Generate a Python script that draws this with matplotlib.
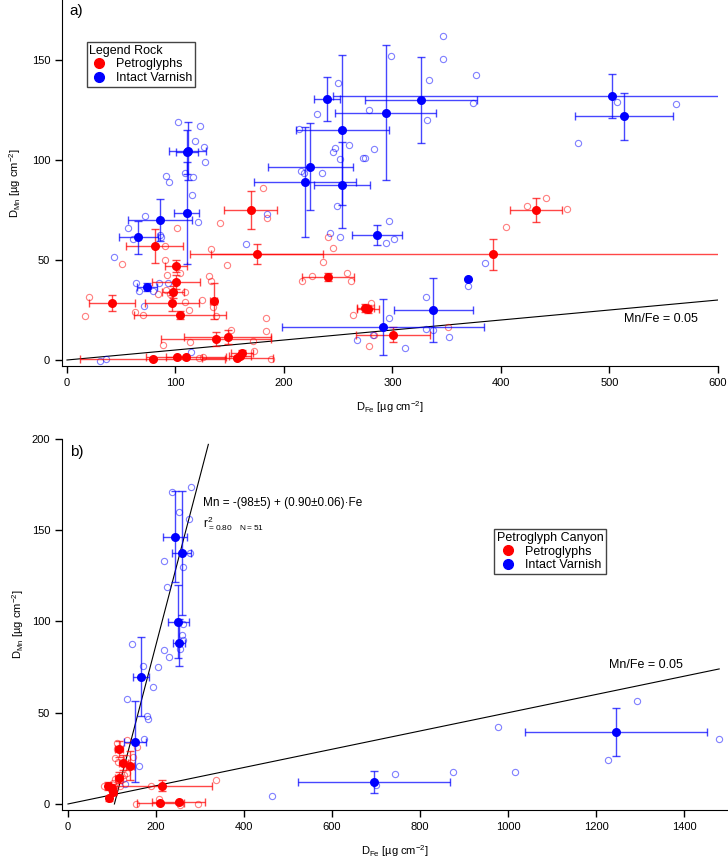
import matplotlib
matplotlib.use("Agg")
from matplotlib import pyplot as plt
from matplotlib.lines import Line2D
from matplotlib.colors import to_rgba
import numpy as np

plt.rcParams['font.family'] = ['Liberation Sans', 'DejaVu Sans']
plt.rcParams['mathtext.fontset'] = 'custom'
plt.rcParams['mathtext.rm'] = 'Liberation Sans'
plt.rcParams['font.size'] = 8

RED = '#ff0000'
BLUE = '#0000ff'

# ---------------- panel a) Legend Rock ----------------
# site means: x, y, x error, y error
a_red_x = [41.5, 80.8, 96.5, 98, 100.2, 100.5, 104.1, 135.2, 137.3, 148, 169.3, 174.8,
           79, 101, 109.7, 157, 159.4, 161.6, 240.8, 277.4, 275, 300.8, 392.3, 432.5]
a_red_y = [28.5, 57, 28.5, 33.8, 47, 39, 22.7, 29.3, 10.7, 11.5, 75, 53,
           0.7, 1.7, 1.7, 0.8, 2.2, 3.3, 41.3, 25.3, 26, 12.7, 52.8, 74.8]
a_red_xe = [21.5, 26.5, 25, 10, 10, 22.3, 42, 3, 51, 40, 24.3, 61,
            67, 10, 36.8, 33, 10, 10, 23.8, 10, 8, 34, 260, 23.8]
a_red_ye = [4, 8.7, 4, 3, 3, 3.5, 2, 9, 3.5, 3.5, 9.7, 5,
            0.5, 0.5, 0.5, 0.5, 1, 1.5, 2, 2, 2, 3.8, 7.6, 6]

a_blue_x = [111.2, 110.5, 110.3, 86, 65.7, 74, 240, 293.7, 326.6, 502.6, 513.4, 253.7,
            224.3, 219, 253.7, 286, 369.6, 337.6, 291.2]
a_blue_y = [104.5, 104, 73.3, 70, 61.3, 36.5, 130.5, 123.7, 130, 132, 121.8, 115,
            96.7, 89.2, 87.5, 62.5, 40.7, 25, 16.7]
a_blue_xe = [17, 10, 11.5, 29.5, 18, 9.3, 12, 46.5, 51.5, 257, 45.5, 42.7,
             39, 47, 26, 23, 0, 36.5, 93]
a_blue_ye = [14.5, 11, 25.5, 10.5, 8.3, 2, 11, 33.8, 21.5, 11, 11.7, 37.5,
             21.6, 27.5, 21.5, 5, 0, 15.8, 14]

# individual samples
a_red_sx = [181, 441.7, 101.7, 141, 184, 90, 132.7, 147.2, 51, 90, 91.9, 104.1, 130.9,
            132.7, 91, 108.8, 84.1, 95, 20, 124.4, 108.8, 112.4, 62.7, 70.3, 16.3,
            134.8, 137.3, 183.4, 183.1, 150.8, 113.4, 88.8, 171.7, 172.4, 121.7,
            125.6, 187.7, 236.2, 244.9, 240.8, 216.3, 225.5, 257.8, 261.5, 263.9,
            424, 461, 404.9, 279.9, 351.2, 282.9, 278]
a_red_sy = [86.2, 81.2, 66, 68.3, 71.2, 57, 55.3, 47.7, 48, 49.8, 42.5, 43.7, 42.2,
            39.5, 35, 34, 32.8, 32.8, 31.5, 29.8, 29, 25.2, 23.8, 22.7, 22.2,
            26.3, 22.2, 21, 14.3, 14.8, 9.2, 7.3, 9.5, 4.7, 1.2,
            1.7, 0.5, 49.2, 56, 61.3, 39.7, 42, 43.7, 39.7, 22.5,
            77, 75.5, 66.5, 28.3, 16.5, 12.5, 7.2]
a_blue_sx = [102.6, 122.6, 118, 126.3, 126.9, 91, 94.3, 109, 115.8, 115.2, 249.5, 230,
             214, 247, 245.4, 259.9, 251.6, 273, 215.7, 218.4, 235,
             346.5, 298.9, 346.5, 377, 333.4, 278, 373.9, 332, 283.2, 275, 507.2,
             561.3, 471, 71.9, 56.2, 60.8, 85.4, 86.4, 121, 184, 165, 43.6, 63.9,
             66.6, 85, 93.3, 79.5, 70.7, 242.4, 251.6, 248.5, 114.6, 30.4, 36, 267,
             296.8, 294.3, 301.4, 385, 369.6, 331.2, 296.8, 330.6, 337.6, 352, 311.8, 282.3]
a_blue_sy = [118.8, 117, 109.7, 106.3, 98.8, 92.2, 89.2, 93.5, 91.3, 82.3, 138.3, 123,
             115.5, 105.8, 103.8, 107.7, 100.3, 100.8, 94.7, 93.3, 93.7,
             162.2, 152, 150.3, 142.5, 140, 125.2, 128.5, 120.2, 105.3, 101.2, 129.2,
             128, 108.5, 72.2, 66, 60.3, 62.3, 61.7, 69.2, 73, 58, 51.5, 38.7,
             34.3, 38.7, 38.5, 34.3, 27, 63.7, 61.3, 77.2, 4, -0.5, 0.7, 9.8,
             69.7, 58.3, 60.3, 48.3, 37, 31.7, 21, 15.3, 15, 11.5, 6.2, 12.5]

# ---------------- panel b) Petroglyph Canyon ----------------
b_red_x = [115.9, 125.7, 140.9, 115.9, 91.6, 99.3, 103, 93.9, 213, 209.8, 251.5]
b_red_y = [30.1, 22.6, 21, 14.4, 9.9, 9, 6.8, 3.1, 10.1, 0.4, 0.9]
b_red_xe = [8, 10, 10, 8, 6, 5, 5, 4, 115, 54, 60]
b_red_ye = [4.5, 4, 8, 3, 2, 2, 2, 1.5, 3.2, 0.5, 1]

b_blue_x = [243.2, 258.4, 250.7, 252.3, 165.9, 151.6, 695.5, 1246]
b_blue_y = [146.5, 137.3, 99.9, 88.4, 69.8, 34.2, 12.2, 39.5]
b_blue_xe = [28, 21, 23.4, 14.5, 17.7, 24.6, 172, 207]
b_blue_ye = [25, 34, 20, 13, 21.5, 22, 6, 13.3]

b_red_sx = [133.4, 110.7, 110.7, 156, 106.8, 148.4, 114.3, 133.4, 127.3, 106.8, 125.7,
            81.8, 103, 118.2, 188, 336.4, 154.5, 207.5, 254.5, 294.8, 133.4]
b_red_sy = [35.3, 33.2, 30.1, 31.4, 25, 25.5, 23.2, 16.8, 15.9, 13.5, 13.5,
            9.9, 11.3, 10, 10, 13.3, 0.2, 2.7, -0.5, -0.2, 25.4]
b_blue_sx = [237, 278.8, 253, 275, 277.3, 218.2, 260.7, 224.3, 262, 258.4, 260.7, 255.2,
             145.5, 218.9, 229.5, 169.8, 204.5, 193.2, 133.4, 178.9, 181.1, 172, 161.4,
             128.9, 463, 978, 1292.4, 1479.5, 1227, 743.9, 875, 1015.9, 699]
b_blue_sy = [171.1, 173.5, 160.2, 156.3, 137.3, 133, 129.9, 119.1, 98.5, 92.6, 89.9, 84.8,
             87.7, 84.4, 80.4, 75.6, 74.9, 63.9, 57.4, 48.2, 46.4, 35.8, 21,
             10.8, 4.5, 42, 56.4, 35.6, 24.1, 16.4, 17.7, 17.5, 10.4]

# linear fit drawn in panel b and the Mn/Fe = 0.05 reference
fit_x = [105.5, 319]
fit_slope = 0.923
ratio = 0.05


def style_axes(ax):
    for s in ['top', 'right']:
        ax.spines[s].set_visible(False)
    ax.tick_params(direction='out', length=5, width=1, labelsize=8)


def draw_set(ax, sx, sy, mx, my, mxe, mye, color):
    ax.plot(sx, sy, 'o', mfc='none', mec=color, ms=4.5, mew=0.8, alpha=0.5, zorder=2)
    ax.errorbar(mx, my, xerr=mxe, yerr=mye, fmt='none', ecolor=to_rgba(color, 0.72),
                elinewidth=1, capsize=3, capthick=1, zorder=3)
    ax.plot(mx, my, 'o', color=color, ms=6.5, mew=0, zorder=4)


def legend(ax, title, anchor, title_align):
    handles = [Line2D([], [], ls='none', marker='o', color=RED, ms=7),
               Line2D([], [], ls='none', marker='o', color=BLUE, ms=7)]
    leg = ax.legend(handles, ['Petroglyphs', 'Intact Varnish'], title=title,
                    loc='upper left', bbox_to_anchor=anchor, borderaxespad=0,
                    fancybox=False, edgecolor='#444444', framealpha=1,
                    fontsize=9, title_fontsize=9, borderpad=0.2,
                    handletextpad=0.6, labelspacing=0.15, handlelength=1.5,
                    alignment=title_align)
    leg.get_frame().set_linewidth(1)


fig = plt.figure(figsize=(7.28, 8.57), dpi=100)

ylab = 'D$_\\mathregular{Mn}$ [µg cm$^\\mathregular{-2}$]'
xlab = 'D$_\\mathregular{Fe}$ [µg cm$^\\mathregular{-2}$]'

# panel a
ax1 = fig.add_axes([62 / 728, 1 - 366 / 857, 656 / 728, 366 / 857])
style_axes(ax1)
draw_set(ax1, a_red_sx, a_red_sy, a_red_x, a_red_y, a_red_xe, a_red_ye, RED)
draw_set(ax1, a_blue_sx, a_blue_sy, a_blue_x, a_blue_y, a_blue_xe, a_blue_ye, BLUE)
lx = np.array([0, 600])
ax1.plot(lx, ratio * lx, color='k', lw=0.8, zorder=1)
ax1.text(513, 20.5, 'Mn/Fe = 0.05', fontsize=9, va='center')
ax1.text(0.012, 0.96, 'a)', transform=ax1.transAxes, fontsize=11)
ax1.set_xlim(-4.6, 600)
ax1.set_ylim(-3, 180)
ax1.set_xticks(range(0, 601, 100))
ax1.set_yticks([0, 50, 100, 150])
ax1.set_xlabel(xlab, fontsize=8, labelpad=8)
ax1.set_ylabel(ylab, fontsize=8, labelpad=6)
legend(ax1, 'Legend Rock', (0.038, 0.885), 'left')

# panel b
ax2 = fig.add_axes([62 / 728, 47 / 857, 666 / 728, 371 / 857])
style_axes(ax2)
draw_set(ax2, b_red_sx, b_red_sy, b_red_x, b_red_y, b_red_xe, b_red_ye, RED)
draw_set(ax2, b_blue_sx, b_blue_sy, b_blue_x, b_blue_y, b_blue_xe, b_blue_ye, BLUE)
lx = np.array([0, 1480])
ax2.plot(lx, ratio * lx, color='k', lw=0.8, zorder=1)
fx = np.array(fit_x)
ax2.plot(fx, fit_slope * (fx - fit_x[0]), color='k', lw=0.8, zorder=1)
ax2.text(1229, 73, 'Mn/Fe = 0.05', fontsize=9, va='bottom')
ax2.text(307, 165, 'Mn = -(98±5) + (0.90±0.06)·Fe', fontsize=8.5, va='center')
ax2.text(307, 153.5, 'r$^\\mathregular{2}_\\mathregular{=0.80\\ \\ \\ N=51}$',
         fontsize=8.5, va='center')
ax2.text(0.012, 0.955, 'b)', transform=ax2.transAxes, fontsize=11)
ax2.set_xlim(-13.6, 1500)
ax2.set_ylim(-3.3, 200)
ax2.set_xticks(range(0, 1401, 200))
ax2.set_yticks([0, 50, 100, 150, 200])
ax2.set_xlabel(xlab, fontsize=8, labelpad=8)
ax2.set_ylabel(ylab, fontsize=8, labelpad=4)
legend(ax2, 'Petroglyph Canyon', (0.649, 0.757), 'center')

fig.savefig('out.png', dpi=100)
